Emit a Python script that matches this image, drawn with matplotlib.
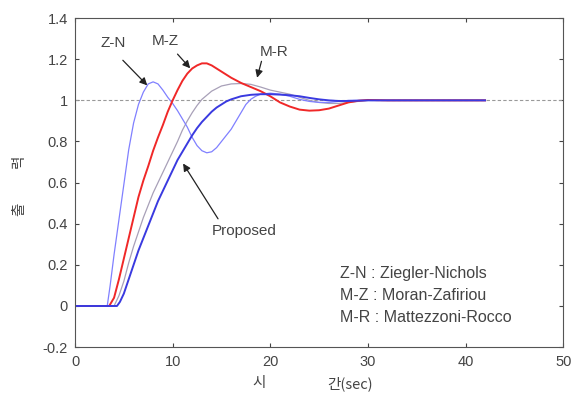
import matplotlib
matplotlib.use("Agg")
import matplotlib.pyplot as plt

plt.rcParams['font.family'] = ['Liberation Sans', 'Noto Sans CJK KR', 'DejaVu Sans']

# step responses (time in sec)
t_zn = [0, 3.3, 3.6, 4, 4.5, 5, 5.5, 6, 6.5, 7, 7.5, 8, 8.5, 9, 9.5, 10, 10.5, 11, 11.5,
        12, 12.5, 13, 13.5, 14, 14.5, 15, 15.5, 16, 16.5, 17, 17.5, 18, 18.5, 19, 20,
        21, 22, 23, 24, 25, 26, 27, 28, 30, 33, 36, 39, 42]
y_zn = [0, 0, 0.1, 0.25, 0.42, 0.59, 0.76, 0.89, 0.98, 1.04, 1.08, 1.09, 1.08, 1.05, 1.015,
        0.985, 0.95, 0.91, 0.87, 0.82, 0.78, 0.755, 0.745, 0.75, 0.77, 0.8, 0.83, 0.86, 0.9,
        0.94, 0.98, 1.005, 1.02, 1.03, 1.035, 1.03, 1.02, 1.005, 0.995, 0.99, 0.99, 0.995,
        1.0, 1.0, 1.0, 1.0, 1.0, 1.0]

t_mz = [0, 3.5, 4, 4.5, 5, 5.5, 6, 6.5, 7, 7.5, 8, 8.5, 9, 9.5, 10, 10.5, 11, 11.5, 12,
        12.5, 13, 13.5, 14, 15, 16, 17, 18, 19, 20, 21, 22, 23, 24, 25, 26, 27, 28, 29, 30,
        32, 35, 38, 42]
y_mz = [0, 0, 0.04, 0.13, 0.23, 0.33, 0.43, 0.53, 0.61, 0.68, 0.755, 0.82, 0.88, 0.945,
        1.0, 1.05, 1.095, 1.13, 1.155, 1.17, 1.18, 1.18, 1.17, 1.14, 1.11, 1.085, 1.065,
        1.045, 1.02, 0.99, 0.97, 0.955, 0.95, 0.952, 0.96, 0.975, 0.99, 0.998, 1.002,
        1.0, 1.0, 1.0, 1.0]

t_mr = [0, 4, 4.5, 5, 5.5, 6, 6.5, 7, 7.5, 8, 8.5, 9, 9.5, 10, 10.5, 11, 11.5, 12, 12.5,
        13, 14, 15, 16, 17, 18, 19, 20, 21, 22, 23, 24, 25, 26, 27, 28, 30, 33, 36, 39, 42]
y_mr = [0, 0, 0.05, 0.12, 0.21, 0.29, 0.36, 0.43, 0.49, 0.55, 0.6, 0.65, 0.7, 0.75, 0.8,
        0.855, 0.9, 0.94, 0.975, 1.005, 1.045, 1.07, 1.08, 1.082, 1.078, 1.065, 1.05, 1.04,
        1.03, 1.015, 1.0, 0.99, 0.985, 0.985, 0.99, 1.0, 1.0, 1.0, 1.0, 1.0]

t_pr = [0, 4.3, 4.6, 5, 5.5, 6, 6.5, 7, 7.5, 8, 8.5, 9, 9.5, 10, 10.5, 11, 11.5, 12, 12.5,
        13, 13.5, 14, 14.5, 15, 15.5, 16, 17, 18, 19, 20, 21, 22, 23, 24, 25, 26, 27, 28,
        30, 33, 36, 39, 42]
y_pr = [0, 0, 0.02, 0.06, 0.13, 0.2, 0.27, 0.33, 0.39, 0.45, 0.51, 0.56, 0.61, 0.66, 0.71,
        0.75, 0.79, 0.83, 0.865, 0.895, 0.92, 0.945, 0.965, 0.98, 0.995, 1.005, 1.02, 1.027,
        1.03, 1.03, 1.028, 1.025, 1.02, 1.012, 1.005, 1.0, 0.997, 0.997, 1.0, 1.0, 1.0, 1.0,
        1.0]

t_ref = [0, 50]
y_ref = [1, 1]

legend_lines = ["Z-N : Ziegler-Nichols", "M-Z : Moran-Zafiriou", "M-R : Mattezzoni-Rocco"]

fig = plt.figure(figsize=(5.77, 3.94), dpi=100)
ax = fig.add_axes([0.130, 0.119, 0.846, 0.835])

ax.plot(t_ref, y_ref, color="#999999", lw=0.8, ls="--", dashes=(3, 2))
ax.plot(t_mr, y_mr, color="#a8a0b8", lw=0.9)
ax.plot(t_zn, y_zn, color="#8080ff", lw=0.9)
ax.plot(t_mz, y_mz, color="#f02828", lw=1.4)
ax.plot(t_pr, y_pr, color="#3a3ae0", lw=1.4)

ax.set_xlim(0, 50)
ax.set_ylim(-0.2, 1.4)
ax.set_xticks([0, 10, 20, 30, 40, 50])
ax.set_yticks([-0.2, 0, 0.2, 0.4, 0.6, 0.8, 1, 1.2, 1.4])
ax.set_yticklabels(["-0.2", "0", "0.2", "0.4", "0.6", "0.8", "1", "1.2", "1.4"])
ax.tick_params(direction="in", top=True, right=True, labelsize=10.5,
               labelcolor="#444444", color="#444444", length=3)
ax.tick_params(axis="x", pad=6)
ax.tick_params(axis="y", pad=5)
for s in ax.spines.values():
    s.set_color("#555555")
    s.set_linewidth(0.8)

arrow = dict(arrowstyle="-|>", color="#222222", lw=0.9, mutation_scale=11,
             shrinkA=0, shrinkB=0)
txt = dict(fontsize=11, color="#444444", ha="center", va="center")
ax.annotate("", xy=(7.4, 1.073), xytext=(4.9, 1.195), arrowprops=arrow)
ax.text(3.9, 1.28, "Z-N", **txt)
ax.annotate("", xy=(11.8, 1.156), xytext=(10.5, 1.225), arrowprops=arrow)
ax.text(9.2, 1.29, "M-Z", **txt)
ax.annotate("", xy=(18.65, 1.11), xytext=(19.1, 1.19), arrowprops=arrow)
ax.text(20.4, 1.234, "M-R", **txt)
ax.annotate("", xy=(11.07, 0.693), xytext=(14.65, 0.424), arrowprops=arrow)
ax.text(17.3, 0.366, "Proposed", **txt)

for i, line in enumerate(legend_lines):
    ax.text(27.1, 0.156 - 0.107 * i, line, fontsize=11.5, color="#444444",
            ha="left", va="center")

# axis labels (Korean)
kr = ["Noto Sans CJK KR", "DejaVu Sans"]
fig.text(259 / 577, 1 - 383 / 394, "시", fontsize=10.5, color="#444444",
         ha="center", va="center", family=kr)
fig.text(327 / 577, 1 - 384 / 394, "간(sec)", fontsize=10.5, color="#444444",
         ha="left", va="center", family=kr)
fig.text(19 / 577, 1 - 209 / 394, "출", fontsize=10.5, color="#444444", rotation=90,
         ha="center", va="center", family=kr)
fig.text(19 / 577, 1 - 161 / 394, "력", fontsize=10.5, color="#444444", rotation=90,
         ha="center", va="center", family=kr)

fig.savefig("out.png", dpi=100)
